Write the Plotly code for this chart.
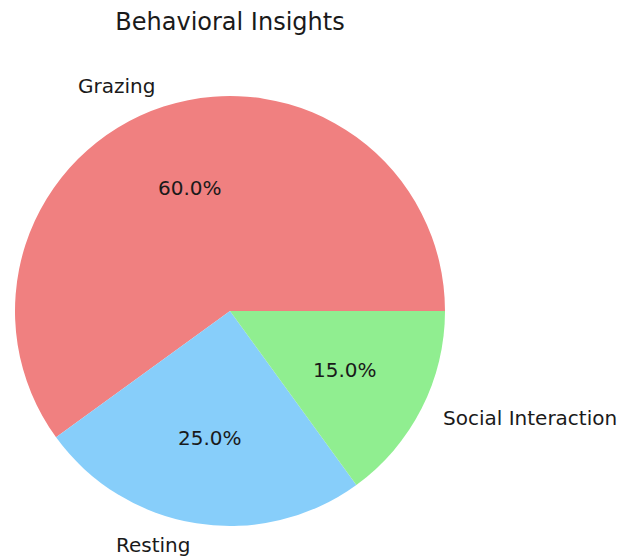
import math
import plotly.graph_objects as go

labels = ["Grazing", "Resting", "Social Interaction"]
values = [60, 25, 15]
colors = ["#F08080", "#87CEFA", "#90EE90"]
title = "Behavioral Insights"

total = sum(values)
# Plotly counterclockwise pies place the first slice clockwise of `rotation`;
# shift so the first slice starts at 3 o'clock and runs counterclockwise.
rotation = 90 - 360 * values[0] / total

fig = go.Figure(go.Pie(
    labels=labels, values=values, sort=False,
    direction="counterclockwise", rotation=rotation,
    marker=dict(colors=colors, line=dict(width=0)),
    textinfo="none", hoverinfo="label+percent", showlegend=False,
))

annotations = []
start = 0.0
for lab, v in zip(labels, values):
    frac = v / total
    mid = (start + frac / 2) * 2 * math.pi
    start += frac
    c, s = math.cos(mid), math.sin(mid)
    annotations.append(dict(
        x=0.5 + 0.5 * 1.1 * c, y=0.5 + 0.5 * 1.1 * s, xref="paper", yref="paper",
        text=lab, showarrow=False,
        xanchor="left" if c > 0 else "right", yanchor="middle",
        font=dict(size=20, color="#1a1a1a", family="DejaVu Sans"),
    ))
    annotations.append(dict(
        x=0.5 + 0.5 * 0.6 * c, y=0.5 + 0.5 * 0.6 * s, xref="paper", yref="paper",
        text=f"{frac*100:.1f}%", showarrow=False,
        xanchor="center", yanchor="middle",
        font=dict(size=20, color="#1a1a1a", family="DejaVu Sans"),
    ))

W, H = 617, 556
fig.update_layout(
    width=W, height=H,
    margin=dict(l=15, r=W - 15 - 430, t=96, b=H - 96 - 430),
    paper_bgcolor="white", plot_bgcolor="white",
    title=dict(text=title, x=0.5, xref="paper", xanchor="center",
               y=1 - 22 / H, yref="container", yanchor="middle",
               font=dict(size=24, color="#1a1a1a", family="DejaVu Sans")),
    annotations=annotations,
    font=dict(family="DejaVu Sans"),
)

fig.write_html("out.html", config={"displayModeBar": False},
               post_script="document.body.style.margin='0';document.body.style.overflow='hidden';")
